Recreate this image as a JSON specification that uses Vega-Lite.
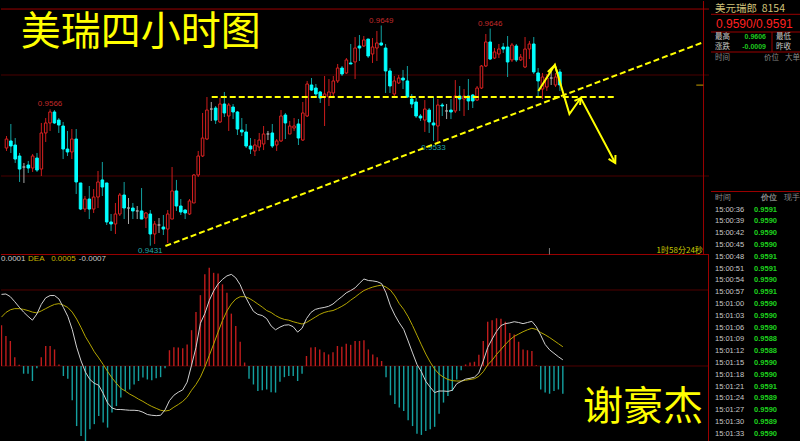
{
"$schema":"https://vega.github.io/schema/vega-lite/v6.json",
"background":"#000000",
"padding":0,
"spacing":0,
"config":{"view":{"stroke":null},"axis":{"disable":true},"legend":{"disable":true},"text":{"font":"Liberation Sans"}},
"datasets":{
"k":[
{"i":0,"o":0.95277,"h":0.95396,"l":0.95248,"c":0.95366,"d":"u","dif":0.00186,"dea":0.00127,"m":0.00106},
{"i":1,"o":0.95347,"h":0.95515,"l":0.95228,"c":0.95297,"d":"d","dif":0.00187,"dea":0.00139,"m":0.00078},
{"i":2,"o":0.95307,"h":0.95376,"l":0.95129,"c":0.95168,"d":"d","dif":0.00180,"dea":0.00146,"m":0.00065},
{"i":3,"o":0.95198,"h":0.95228,"l":0.94941,"c":0.95069,"d":"d","dif":0.00167,"dea":0.00149,"m":0.00023},
{"i":4,"o":0.95089,"h":0.95129,"l":0.94931,"c":0.95089,"d":"f","dif":0.00153,"dea":0.00149,"m":0.00003},
{"i":5,"o":0.95109,"h":0.95149,"l":0.95030,"c":0.95079,"d":"d","dif":0.00140,"dea":0.00147,"m":-0.00020},
{"i":6,"o":0.95079,"h":0.95218,"l":0.95040,"c":0.95198,"d":"u","dif":0.00129,"dea":0.00144,"m":-0.00020},
{"i":7,"o":0.95178,"h":0.95228,"l":0.95040,"c":0.95059,"d":"d","dif":0.00119,"dea":0.00140,"m":-0.00039},
{"i":8,"o":0.95069,"h":0.95525,"l":0.95000,"c":0.95426,"d":"u","dif":0.00135,"dea":0.00138,"m":-0.00006},
{"i":9,"o":0.95426,"h":0.95574,"l":0.95337,"c":0.95525,"d":"u","dif":0.00160,"dea":0.00143,"m":0.00023},
{"i":10,"o":0.95525,"h":0.95660,"l":0.95446,"c":0.95634,"d":"u","dif":0.00177,"dea":0.00149,"m":0.00052},
{"i":11,"o":0.95634,"h":0.95653,"l":0.95515,"c":0.95525,"d":"d","dif":0.00183,"dea":0.00155,"m":0.00052},
{"i":12,"o":0.95554,"h":0.95574,"l":0.95426,"c":0.95505,"d":"d","dif":0.00183,"dea":0.00160,"m":0.00043},
{"i":13,"o":0.95495,"h":0.95535,"l":0.95168,"c":0.95267,"d":"d","dif":0.00174,"dea":0.00162,"m":0.00004},
{"i":14,"o":0.95267,"h":0.95446,"l":0.95198,"c":0.95238,"d":"d","dif":0.00152,"dea":0.00158,"m":-0.00026},
{"i":15,"o":0.95238,"h":0.95465,"l":0.95168,"c":0.95366,"d":"u","dif":0.00129,"dea":0.00152,"m":-0.00033},
{"i":16,"o":0.95366,"h":0.95465,"l":0.94822,"c":0.94941,"d":"d","dif":0.00095,"dea":0.00140,"m":-0.00089},
{"i":17,"o":0.94931,"h":0.94931,"l":0.94663,"c":0.94673,"d":"d","dif":0.00049,"dea":0.00122,"m":-0.00156},
{"i":18,"o":0.94673,"h":0.94802,"l":0.94644,"c":0.94772,"d":"u","dif":0.00013,"dea":0.00100,"m":-0.00182},
{"i":19,"o":0.94772,"h":0.94901,"l":0.94574,"c":0.94673,"d":"d","dif":-0.00016,"dea":0.00076,"m":-0.00195},
{"i":20,"o":0.94673,"h":0.94871,"l":0.94634,"c":0.94792,"d":"u","dif":-0.00035,"dea":0.00057,"m":-0.00164},
{"i":21,"o":0.94792,"h":0.95050,"l":0.94683,"c":0.94941,"d":"u","dif":-0.00045,"dea":0.00037,"m":-0.00151},
{"i":22,"o":0.94961,"h":0.95139,"l":0.94802,"c":0.94891,"d":"d","dif":-0.00050,"dea":0.00021,"m":-0.00130},
{"i":23,"o":0.94931,"h":0.94931,"l":0.94515,"c":0.94545,"d":"d","dif":-0.00071,"dea":0.00004,"m":-0.00147},
{"i":24,"o":0.94545,"h":0.94624,"l":0.94456,"c":0.94525,"d":"d","dif":-0.00096,"dea":-0.00014,"m":-0.00160},
{"i":25,"o":0.94525,"h":0.94733,"l":0.94426,"c":0.94624,"d":"u","dif":-0.00109,"dea":-0.00031,"m":-0.00121},
{"i":26,"o":0.94624,"h":0.94832,"l":0.94604,"c":0.94812,"d":"u","dif":-0.00113,"dea":-0.00045,"m":-0.00104},
{"i":27,"o":0.94812,"h":0.94941,"l":0.94574,"c":0.94683,"d":"d","dif":-0.00113,"dea":-0.00058,"m":-0.00082},
{"i":28,"o":0.94683,"h":0.94782,"l":0.94525,"c":0.94683,"d":"f","dif":-0.00114,"dea":-0.00065,"m":-0.00065},
{"i":29,"o":0.94683,"h":0.94733,"l":0.94574,"c":0.94654,"d":"d","dif":-0.00115,"dea":-0.00073,"m":-0.00061},
{"i":30,"o":0.94654,"h":0.94703,"l":0.94574,"c":0.94654,"d":"f","dif":-0.00115,"dea":-0.00079,"m":-0.00048},
{"i":31,"o":0.94654,"h":0.94881,"l":0.94574,"c":0.94574,"d":"d","dif":-0.00116,"dea":-0.00086,"m":-0.00039},
{"i":32,"o":0.94584,"h":0.94644,"l":0.94485,"c":0.94634,"d":"u","dif":-0.00120,"dea":-0.00092,"m":-0.00030},
{"i":33,"o":0.94624,"h":0.94663,"l":0.94310,"c":0.94426,"d":"d","dif":-0.00126,"dea":-0.00099,"m":-0.00035},
{"i":34,"o":0.94426,"h":0.94555,"l":0.94327,"c":0.94525,"d":"u","dif":-0.00128,"dea":-0.00105,"m":-0.00037},
{"i":35,"o":0.94515,"h":0.94584,"l":0.94436,"c":0.94515,"d":"f","dif":-0.00129,"dea":-0.00110,"m":-0.00032},
{"i":36,"o":0.94495,"h":0.94614,"l":0.94416,"c":0.94475,"d":"d","dif":-0.00128,"dea":-0.00115,"m":-0.00029},
{"i":37,"o":0.94475,"h":0.94663,"l":0.94337,"c":0.94624,"d":"u","dif":-0.00114,"dea":-0.00117,"m":-0.00006},
{"i":38,"o":0.94574,"h":0.95089,"l":0.94574,"c":0.94852,"d":"u","dif":-0.00090,"dea":-0.00115,"m":0.00041},
{"i":39,"o":0.94852,"h":0.94961,"l":0.94654,"c":0.94703,"d":"d","dif":-0.00076,"dea":-0.00107,"m":0.00049},
{"i":40,"o":0.94703,"h":0.94772,"l":0.94614,"c":0.94644,"d":"d","dif":-0.00068,"dea":-0.00100,"m":0.00048},
{"i":41,"o":0.94663,"h":0.94673,"l":0.94574,"c":0.94634,"d":"d","dif":-0.00062,"dea":-0.00092,"m":0.00046},
{"i":42,"o":0.94624,"h":0.94772,"l":0.94614,"c":0.94753,"d":"u","dif":-0.00042,"dea":-0.00081,"m":0.00056},
{"i":43,"o":0.94733,"h":0.95020,"l":0.94733,"c":0.95010,"d":"u","dif":0.00002,"dea":-0.00063,"m":0.00093},
{"i":44,"o":0.95010,"h":0.95248,"l":0.94990,"c":0.95198,"d":"u","dif":0.00048,"dea":-0.00048,"m":0.00140},
{"i":45,"o":0.95198,"h":0.95624,"l":0.95188,"c":0.95376,"d":"u","dif":0.00111,"dea":-0.00029,"m":0.00184},
{"i":46,"o":0.95366,"h":0.95782,"l":0.95356,"c":0.95653,"d":"u","dif":0.00136,"dea":-0.00003,"m":0.00238},
{"i":47,"o":0.95663,"h":0.95733,"l":0.95545,"c":0.95663,"d":"f","dif":0.00170,"dea":0.00027,"m":0.00255},
{"i":48,"o":0.95673,"h":0.95693,"l":0.95515,"c":0.95554,"d":"d","dif":0.00195,"dea":0.00057,"m":0.00242},
{"i":49,"o":0.95535,"h":0.95772,"l":0.95525,"c":0.95713,"d":"u","dif":0.00213,"dea":0.00088,"m":0.00240},
{"i":50,"o":0.95713,"h":0.95832,"l":0.95584,"c":0.95624,"d":"d","dif":0.00225,"dea":0.00118,"m":0.00212},
{"i":51,"o":0.95594,"h":0.95723,"l":0.95446,"c":0.95703,"d":"u","dif":0.00234,"dea":0.00143,"m":0.00190},
{"i":52,"o":0.95683,"h":0.95713,"l":0.95564,"c":0.95634,"d":"d","dif":0.00238,"dea":0.00161,"m":0.00136},
{"i":53,"o":0.95634,"h":0.95644,"l":0.95406,"c":0.95465,"d":"d","dif":0.00229,"dea":0.00174,"m":0.00104},
{"i":54,"o":0.95455,"h":0.95574,"l":0.95396,"c":0.95436,"d":"d","dif":0.00211,"dea":0.00180,"m":0.00063},
{"i":55,"o":0.95436,"h":0.95515,"l":0.95277,"c":0.95297,"d":"d","dif":0.00184,"dea":0.00180,"m":0.00009},
{"i":56,"o":0.95297,"h":0.95376,"l":0.95218,"c":0.95267,"d":"d","dif":0.00162,"dea":0.00176,"m":-0.00033},
{"i":57,"o":0.95248,"h":0.95366,"l":0.95198,"c":0.95307,"d":"u","dif":0.00142,"dea":0.00169,"m":-0.00048},
{"i":58,"o":0.95287,"h":0.95426,"l":0.95248,"c":0.95356,"d":"u","dif":0.00134,"dea":0.00161,"m":-0.00065},
{"i":59,"o":0.95317,"h":0.95495,"l":0.95257,"c":0.95416,"d":"u","dif":0.00131,"dea":0.00153,"m":-0.00063},
{"i":60,"o":0.95416,"h":0.95446,"l":0.95356,"c":0.95416,"d":"f","dif":0.00123,"dea":0.00144,"m":-0.00061},
{"i":61,"o":0.95426,"h":0.95515,"l":0.95277,"c":0.95297,"d":"d","dif":0.00104,"dea":0.00139,"m":-0.00068},
{"i":62,"o":0.95307,"h":0.95366,"l":0.95248,"c":0.95347,"d":"u","dif":0.00094,"dea":0.00131,"m":-0.00069},
{"i":63,"o":0.95347,"h":0.95653,"l":0.95337,"c":0.95594,"d":"u","dif":0.00101,"dea":0.00125,"m":-0.00041},
{"i":64,"o":0.95604,"h":0.95624,"l":0.95366,"c":0.95525,"d":"d","dif":0.00106,"dea":0.00121,"m":-0.00029},
{"i":65,"o":0.95416,"h":0.95545,"l":0.95416,"c":0.95495,"d":"u","dif":0.00107,"dea":0.00119,"m":-0.00026},
{"i":66,"o":0.95475,"h":0.95574,"l":0.95446,"c":0.95495,"d":"u","dif":0.00102,"dea":0.00115,"m":-0.00026},
{"i":67,"o":0.95515,"h":0.95564,"l":0.95307,"c":0.95376,"d":"d","dif":0.00088,"dea":0.00112,"m":-0.00039},
{"i":68,"o":0.95356,"h":0.95733,"l":0.95347,"c":0.95624,"d":"u","dif":0.00098,"dea":0.00109,"m":-0.00020},
{"i":69,"o":0.95594,"h":0.95941,"l":0.95584,"c":0.95911,"d":"u","dif":0.00123,"dea":0.00113,"m":0.00026},
{"i":70,"o":0.95901,"h":0.95970,"l":0.95842,"c":0.95851,"d":"d","dif":0.00139,"dea":0.00120,"m":0.00048},
{"i":71,"o":0.95871,"h":0.95911,"l":0.95782,"c":0.95812,"d":"d","dif":0.00147,"dea":0.00127,"m":0.00049},
{"i":72,"o":0.95832,"h":0.95842,"l":0.95723,"c":0.95772,"d":"d","dif":0.00150,"dea":0.00134,"m":0.00043},
{"i":73,"o":0.95782,"h":0.95990,"l":0.95495,"c":0.95812,"d":"u","dif":0.00152,"dea":0.00139,"m":0.00036},
{"i":74,"o":0.95782,"h":0.95960,"l":0.95693,"c":0.95832,"d":"u","dif":0.00155,"dea":0.00142,"m":0.00030},
{"i":75,"o":0.95822,"h":0.95990,"l":0.95772,"c":0.95941,"d":"u","dif":0.00161,"dea":0.00144,"m":0.00036},
{"i":76,"o":0.95941,"h":0.96109,"l":0.95921,"c":0.96069,"d":"u","dif":0.00171,"dea":0.00149,"m":0.00052},
{"i":77,"o":0.96069,"h":0.96089,"l":0.95990,"c":0.96010,"d":"d","dif":0.00180,"dea":0.00155,"m":0.00050},
{"i":78,"o":0.96020,"h":0.96168,"l":0.96010,"c":0.96149,"d":"u","dif":0.00190,"dea":0.00162,"m":0.00058},
{"i":79,"o":0.96119,"h":0.96307,"l":0.96109,"c":0.96109,"d":"d","dif":0.00196,"dea":0.00171,"m":0.00055},
{"i":80,"o":0.96129,"h":0.96376,"l":0.95960,"c":0.96267,"d":"u","dif":0.00203,"dea":0.00179,"m":0.00065},
{"i":81,"o":0.96287,"h":0.96396,"l":0.96139,"c":0.96267,"d":"d","dif":0.00215,"dea":0.00188,"m":0.00065},
{"i":82,"o":0.96287,"h":0.96386,"l":0.96277,"c":0.96347,"d":"u","dif":0.00226,"dea":0.00196,"m":0.00067},
{"i":83,"o":0.96356,"h":0.96356,"l":0.96168,"c":0.96188,"d":"d","dif":0.00222,"dea":0.00201,"m":0.00043},
{"i":84,"o":0.96208,"h":0.96366,"l":0.96119,"c":0.96277,"d":"u","dif":0.00221,"dea":0.00205,"m":0.00030},
{"i":85,"o":0.96267,"h":0.96436,"l":0.96139,"c":0.96317,"d":"u","dif":0.00219,"dea":0.00208,"m":0.00023},
{"i":86,"o":0.96317,"h":0.96490,"l":0.96287,"c":0.96297,"d":"d","dif":0.00214,"dea":0.00210,"m":0.00013},
{"i":87,"o":0.96267,"h":0.96307,"l":0.95822,"c":0.96040,"d":"d","dif":0.00190,"dea":0.00205,"m":-0.00029},
{"i":88,"o":0.96040,"h":0.96069,"l":0.95822,"c":0.95891,"d":"d","dif":0.00156,"dea":0.00197,"m":-0.00076},
{"i":89,"o":0.95812,"h":0.95990,"l":0.95792,"c":0.95941,"d":"u","dif":0.00132,"dea":0.00182,"m":-0.00099},
{"i":90,"o":0.95921,"h":0.96000,"l":0.95911,"c":0.95970,"d":"u","dif":0.00112,"dea":0.00162,"m":-0.00108},
{"i":91,"o":0.95970,"h":0.96050,"l":0.95861,"c":0.95950,"d":"d","dif":0.00095,"dea":0.00147,"m":-0.00117},
{"i":92,"o":0.95941,"h":0.96089,"l":0.95772,"c":0.95782,"d":"d","dif":0.00065,"dea":0.00128,"m":-0.00141},
{"i":93,"o":0.95762,"h":0.95812,"l":0.95673,"c":0.95713,"d":"d","dif":0.00034,"dea":0.00105,"m":-0.00156},
{"i":94,"o":0.95733,"h":0.95772,"l":0.95574,"c":0.95594,"d":"d","dif":0.00004,"dea":0.00080,"m":-0.00176},
{"i":95,"o":0.95594,"h":0.95614,"l":0.95545,"c":0.95574,"d":"d","dif":-0.00015,"dea":0.00055,"m":-0.00179},
{"i":96,"o":0.95554,"h":0.95752,"l":0.95436,"c":0.95663,"d":"u","dif":-0.00040,"dea":0.00031,"m":-0.00169},
{"i":97,"o":0.95653,"h":0.95673,"l":0.95426,"c":0.95535,"d":"d","dif":-0.00055,"dea":0.00010,"m":-0.00164},
{"i":98,"o":0.95525,"h":0.95782,"l":0.95347,"c":0.95505,"d":"d","dif":-0.00069,"dea":-0.00008,"m":-0.00158},
{"i":99,"o":0.95495,"h":0.95762,"l":0.95330,"c":0.95703,"d":"u","dif":-0.00065,"dea":-0.00021,"m":-0.00124},
{"i":100,"o":0.95703,"h":0.95723,"l":0.95594,"c":0.95693,"d":"d","dif":-0.00065,"dea":-0.00029,"m":-0.00095},
{"i":101,"o":0.95644,"h":0.95713,"l":0.95564,"c":0.95644,"d":"f","dif":-0.00066,"dea":-0.00035,"m":-0.00078},
{"i":102,"o":0.95653,"h":0.95762,"l":0.95564,"c":0.95634,"d":"d","dif":-0.00063,"dea":-0.00038,"m":-0.00065},
{"i":103,"o":0.95644,"h":0.95950,"l":0.95624,"c":0.95792,"d":"u","dif":-0.00046,"dea":-0.00039,"m":-0.00035},
{"i":104,"o":0.95792,"h":0.95891,"l":0.95644,"c":0.95762,"d":"d","dif":-0.00040,"dea":-0.00039,"m":-0.00011},
{"i":105,"o":0.95762,"h":0.95861,"l":0.95594,"c":0.95792,"d":"u","dif":-0.00034,"dea":-0.00037,"m":0.00004},
{"i":106,"o":0.95792,"h":0.95960,"l":0.95653,"c":0.95743,"d":"d","dif":-0.00032,"dea":-0.00035,"m":0.00009},
{"i":107,"o":0.95802,"h":0.95812,"l":0.95673,"c":0.95743,"d":"d","dif":-0.00029,"dea":-0.00033,"m":0.00011},
{"i":108,"o":0.95752,"h":0.95891,"l":0.95743,"c":0.95871,"d":"u","dif":-0.00018,"dea":-0.00027,"m":0.00029},
{"i":109,"o":0.95871,"h":0.96099,"l":0.95861,"c":0.96089,"d":"u","dif":0.00013,"dea":-0.00015,"m":0.00065},
{"i":110,"o":0.96089,"h":0.96406,"l":0.96079,"c":0.96327,"d":"u","dif":0.00048,"dea":0.00003,"m":0.00115},
{"i":111,"o":0.96327,"h":0.96460,"l":0.96149,"c":0.96158,"d":"d","dif":0.00070,"dea":0.00015,"m":0.00119},
{"i":112,"o":0.96168,"h":0.96267,"l":0.96158,"c":0.96228,"d":"u","dif":0.00090,"dea":0.00030,"m":0.00124},
{"i":113,"o":0.96208,"h":0.96307,"l":0.96168,"c":0.96257,"d":"u","dif":0.00105,"dea":0.00043,"m":0.00123},
{"i":114,"o":0.96277,"h":0.96317,"l":0.96218,"c":0.96257,"d":"d","dif":0.00110,"dea":0.00056,"m":0.00115},
{"i":115,"o":0.96277,"h":0.96386,"l":0.95980,"c":0.96129,"d":"d","dif":0.00112,"dea":0.00068,"m":0.00086},
{"i":116,"o":0.96149,"h":0.96317,"l":0.96129,"c":0.96297,"d":"u","dif":0.00115,"dea":0.00077,"m":0.00082},
{"i":117,"o":0.96287,"h":0.96307,"l":0.96129,"c":0.96149,"d":"d","dif":0.00113,"dea":0.00083,"m":0.00063},
{"i":118,"o":0.96149,"h":0.96208,"l":0.96139,"c":0.96178,"d":"u","dif":0.00110,"dea":0.00089,"m":0.00043},
{"i":119,"o":0.96079,"h":0.96376,"l":0.96069,"c":0.96257,"d":"u","dif":0.00113,"dea":0.00094,"m":0.00041},
{"i":120,"o":0.96257,"h":0.96337,"l":0.96158,"c":0.96307,"d":"u","dif":0.00116,"dea":0.00098,"m":0.00039},
{"i":121,"o":0.96307,"h":0.96376,"l":0.96010,"c":0.96030,"d":"d","dif":0.00102,"dea":0.00095,"m":0.00002},
{"i":122,"o":0.96020,"h":0.96069,"l":0.95792,"c":0.95941,"d":"d","dif":0.00080,"dea":0.00087,"m":-0.00061},
{"i":123,"o":0.95861,"h":0.96020,"l":0.95762,"c":0.95980,"d":"u","dif":0.00056,"dea":0.00081,"m":-0.00069},
{"i":124,"o":0.95881,"h":0.96010,"l":0.95842,"c":0.95970,"d":"u","dif":0.00042,"dea":0.00074,"m":-0.00072},
{"i":125,"o":0.95970,"h":0.96040,"l":0.95901,"c":0.95970,"d":"f","dif":0.00033,"dea":0.00066,"m":-0.00065},
{"i":126,"o":0.95901,"h":0.96020,"l":0.95881,"c":0.95980,"d":"u","dif":0.00024,"dea":0.00058,"m":-0.00061},
{"i":127,"o":0.96030,"h":0.96059,"l":0.95842,"c":0.95901,"d":"d","dif":0.00016,"dea":0.00050,"m":-0.00072}
],
"dl":[
{"g":"h","k":0,"i":47.1,"p":0.95782},{"g":"h","k":1,"i":139.4,"p":0.95782},
{"g":"r","k":0,"i":36.47,"p":0.94307},{"g":"r","k":1,"i":160.07,"p":0.96327}
],
"ar":[
{"g":"z","k":0,"i":122.06,"p":0.95842},{"g":"z","k":1,"i":125.84,"p":0.96099},{"g":"z","k":2,"i":129.19,"p":0.95614},{"g":"z","k":3,"i":131.79,"p":0.95772},{"g":"z","k":4,"i":139.71,"p":0.95129},
{"g":"b","k":0,"i":124.23,"p":0.9603},{"g":"b","k":1,"i":125.84,"p":0.96099},{"g":"b","k":2,"i":126.36,"p":0.9603},
{"g":"dd","k":0,"i":130.34,"p":0.95743},{"g":"dd","k":1,"i":131.79,"p":0.95772},{"g":"dd","k":2,"i":131.63,"p":0.95703},
{"g":"e","k":0,"i":138.17,"p":0.9517},{"g":"e","k":1,"i":139.71,"p":0.95129},{"g":"e","k":2,"i":139.75,"p":0.95208}
],
"tk":[
{"r":0,"time":"时间","price":"价位","vol":"现手"},
{"r":1,"time":"15:00:36","price":"0.9591"},
{"r":2,"time":"15:00:39","price":"0.9590"},
{"r":3,"time":"15:00:42","price":"0.9590"},
{"r":4,"time":"15:00:45","price":"0.9590"},
{"r":5,"time":"15:00:48","price":"0.9591"},
{"r":6,"time":"15:00:51","price":"0.9591"},
{"r":7,"time":"15:00:54","price":"0.9590"},
{"r":8,"time":"15:00:57","price":"0.9591"},
{"r":9,"time":"15:01:00","price":"0.9590"},
{"r":10,"time":"15:01:03","price":"0.9590"},
{"r":11,"time":"15:01:06","price":"0.9590"},
{"r":12,"time":"15:01:09","price":"0.9588"},
{"r":13,"time":"15:01:12","price":"0.9588"},
{"r":14,"time":"15:01:15","price":"0.9590"},
{"r":15,"time":"15:01:18","price":"0.9590"},
{"r":16,"time":"15:01:21","price":"0.9591"},
{"r":17,"time":"15:01:24","price":"0.9589"},
{"r":18,"time":"15:01:27","price":"0.9590"},
{"r":19,"time":"15:01:30","price":"0.9589"},
{"r":20,"time":"15:01:33","price":"0.9590"}
]
},
"resolve":{"scale":{"x":"independent","y":"independent","color":"independent"}},
"hconcat":[
{"vconcat":[
{"width":708,"height":254,
"layer":[
{"data":{"values":[{"p":0.96},{"p":0.95}]},"mark":{"type":"rule","color":"#4a0000","strokeWidth":1},
 "encoding":{"y":{"field":"p","type":"quantitative","scale":{"domain":[0.94218,0.967326],"nice":false,"zero":false}}}},
{"data":{"values":[{"p":0.96653},{"p":0.94223}]},"mark":{"type":"rule","color":"#9a0000","strokeWidth":1},
 "encoding":{"y":{"field":"p","type":"quantitative","scale":{"domain":[0.94218,0.967326],"nice":false,"zero":false}}}},
{"data":{"values":[{}]},"mark":{"type":"rule","color":"#9a0000","strokeWidth":1},
 "encoding":{"x":{"datum":159.96,"type":"quantitative","scale":{"domain":[-0.113,160.07],"nice":false,"zero":false}}}},
{"data":{"name":"k"},"mark":{"type":"rule","strokeWidth":1,"clip":true},
 "encoding":{"x":{"field":"i","type":"quantitative","scale":{"domain":[-0.113,160.07],"nice":false,"zero":false}},
 "y":{"field":"l","type":"quantitative","scale":{"domain":[0.94218,0.967326],"nice":false,"zero":false}},"y2":{"field":"h"},
 "color":{"field":"d","type":"nominal","scale":{"domain":["u","d","f"],"range":["#cc1c1c","#12a0a0","#a8a8a8"]},"legend":null}}},
{"data":{"name":"k"},"mark":{"type":"bar","width":2.6,"strokeWidth":1,"clip":true},
 "encoding":{"x":{"field":"i","type":"quantitative","scale":{"domain":[-0.113,160.07],"nice":false,"zero":false}},
 "y":{"field":"o","type":"quantitative","scale":{"domain":[0.94218,0.967326],"nice":false,"zero":false}},"y2":{"field":"c"},
 "fill":{"field":"d","type":"nominal","scale":{"domain":["u","d","f"],"range":["#000000","#00ffff","#a8a8a8"]},"legend":null},
 "stroke":{"field":"d","type":"nominal","scale":{"domain":["u","d","f"],"range":["#dc2222","#00ffff","#a8a8a8"]},"legend":null}}},
{"data":{"values":[{"i":10,"p":0.9566,"t":"0.9566"},{"i":86,"p":0.9649,"t":"0.9649"},{"i":111,"p":0.9646,"t":"0.9646"}]},
 "mark":{"type":"text","align":"center","baseline":"bottom","dy":-1,"fontSize":8,"color":"#c42a2a"},
 "encoding":{"x":{"field":"i","type":"quantitative","scale":{"domain":[-0.113,160.07],"nice":false,"zero":false}},
 "y":{"field":"p","type":"quantitative","scale":{"domain":[0.94218,0.967326],"nice":false,"zero":false}},"text":{"field":"t"}}},
{"data":{"values":[{"i":33,"p":0.9431,"t":"0.9431"},{"i":98,"p":0.9533,"t":"0.9533"}]},
 "mark":{"type":"text","align":"center","baseline":"top","dy":1,"fontSize":8,"color":"#20a8a8"},
 "encoding":{"x":{"field":"i","type":"quantitative","scale":{"domain":[-0.113,160.07],"nice":false,"zero":false}},
 "y":{"field":"p","type":"quantitative","scale":{"domain":[0.94218,0.967326],"nice":false,"zero":false}},"text":{"field":"t"}}},
{"data":{"name":"dl"},"mark":{"type":"line","color":"#ffff00","strokeWidth":2,"strokeDash":[6,3],"clip":true},
 "encoding":{"x":{"field":"i","type":"quantitative","scale":{"domain":[-0.113,160.07],"nice":false,"zero":false}},
 "y":{"field":"p","type":"quantitative","scale":{"domain":[0.94218,0.967326],"nice":false,"zero":false}},
 "detail":{"field":"g"},"order":{"field":"k"}}},
{"data":{"name":"ar"},"mark":{"type":"line","color":"#ffff00","strokeWidth":2},
 "encoding":{"x":{"field":"i","type":"quantitative","scale":{"domain":[-0.113,160.07],"nice":false,"zero":false}},
 "y":{"field":"p","type":"quantitative","scale":{"domain":[0.94218,0.967326],"nice":false,"zero":false}},
 "detail":{"field":"g"},"order":{"field":"k"}}},
{"data":{"values":[{}]},"mark":{"type":"rule","color":"#c8a000","strokeWidth":1},
 "encoding":{"x":{"datum":158.3,"type":"quantitative","scale":{"domain":[-0.113,160.07],"nice":false,"zero":false}},"x2":{"datum":159.9},
 "y":{"datum":0.959,"type":"quantitative","scale":{"domain":[0.94218,0.967326],"nice":false,"zero":false}}}},
{"data":{"values":[{}]},"mark":{"type":"rule","color":"#7a7a7a","strokeWidth":1},
 "encoding":{"x":{"datum":124.6,"type":"quantitative","scale":{"domain":[-0.113,160.07],"nice":false,"zero":false}},
 "y":{"datum":0.94287,"type":"quantitative","scale":{"domain":[0.94218,0.967326],"nice":false,"zero":false}},"y2":{"datum":0.94223}}},
{"data":{"values":[{}]},"mark":{"type":"text","align":"right","baseline":"middle","fontSize":8,"font":"Noto Sans CJK SC","color":"#c8c800"},
 "encoding":{"x":{"datum":159.8,"type":"quantitative","scale":{"domain":[-0.113,160.07],"nice":false,"zero":false}},
 "y":{"datum":0.94262,"type":"quantitative","scale":{"domain":[0.94218,0.967326],"nice":false,"zero":false}},"text":{"value":"1时58分24秒"}}},
{"data":{"values":[{}]},"mark":{"type":"text","align":"left","baseline":"middle","fontSize":40,"font":"Noto Sans CJK SC","color":"#ffff00"},
 "encoding":{"x":{"datum":3.3,"type":"quantitative","scale":{"domain":[-0.113,160.07],"nice":false,"zero":false}},
 "y":{"datum":0.96411,"type":"quantitative","scale":{"domain":[0.94218,0.967326],"nice":false,"zero":false}},"text":{"value":"美瑞四小时图"}}}
]},
{"width":708,"height":187,
"layer":[
{"data":{"values":[{"v":0.001974},{"v":0}]},"mark":{"type":"rule","color":"#500000","strokeWidth":1},
 "encoding":{"y":{"field":"v","type":"quantitative","scale":{"domain":[-0.001974,0.002883],"nice":false,"zero":false}}}},
{"data":{"values":[{}]},"mark":{"type":"rule","color":"#9a0000","strokeWidth":1},
 "encoding":{"x":{"datum":159.96,"type":"quantitative","scale":{"domain":[-0.113,160.07],"nice":false,"zero":false}}}},
{"data":{"name":"k"},"mark":{"type":"rule","strokeWidth":1.4,"clip":true},
 "encoding":{"x":{"field":"i","type":"quantitative","scale":{"domain":[-0.113,160.07],"nice":false,"zero":false}},
 "y":{"field":"m","type":"quantitative","scale":{"domain":[-0.001974,0.002883],"nice":false,"zero":false}},"y2":{"datum":0},
 "color":{"condition":{"test":"datum.m > 0","value":"#c01c1c"},"value":"#14a0a0"}}},
{"data":{"name":"k"},"mark":{"type":"line","color":"#b4a600","strokeWidth":1,"clip":true},
 "encoding":{"x":{"field":"i","type":"quantitative","scale":{"domain":[-0.113,160.07],"nice":false,"zero":false}},
 "y":{"field":"dea","type":"quantitative","scale":{"domain":[-0.001974,0.002883],"nice":false,"zero":false}}}},
{"data":{"name":"k"},"mark":{"type":"line","color":"#d0d0d0","strokeWidth":1,"clip":true},
 "encoding":{"x":{"field":"i","type":"quantitative","scale":{"domain":[-0.113,160.07],"nice":false,"zero":false}},
 "y":{"field":"dif","type":"quantitative","scale":{"domain":[-0.001974,0.002883],"nice":false,"zero":false}}}},
{"data":{"values":[{}]},"mark":{"type":"text","align":"left","baseline":"middle","fontSize":8,"color":"#c8c8c8"},
 "encoding":{"x":{"datum":-0.11,"type":"quantitative","scale":{"domain":[-0.113,160.07],"nice":false,"zero":false}},
 "y":{"datum":0.00278,"type":"quantitative","scale":{"domain":[-0.001974,0.002883],"nice":false,"zero":false}},"text":{"value":"0.0001"}}},
{"data":{"values":[{}]},"mark":{"type":"text","align":"left","baseline":"middle","fontSize":8,"color":"#c8b400"},
 "encoding":{"x":{"datum":6.0,"type":"quantitative","scale":{"domain":[-0.113,160.07],"nice":false,"zero":false}},
 "y":{"datum":0.00278,"type":"quantitative","scale":{"domain":[-0.001974,0.002883],"nice":false,"zero":false}},"text":{"value":"DEA\u00a0\u00a0\u00a00.0005"}}},
{"data":{"values":[{}]},"mark":{"type":"text","align":"left","baseline":"middle","fontSize":8,"color":"#c8c8c8"},
 "encoding":{"x":{"datum":17.5,"type":"quantitative","scale":{"domain":[-0.113,160.07],"nice":false,"zero":false}},
 "y":{"datum":0.00278,"type":"quantitative","scale":{"domain":[-0.001974,0.002883],"nice":false,"zero":false}},"text":{"value":"-0.0007"}}},
{"data":{"values":[{}]},"mark":{"type":"text","align":"left","baseline":"middle","fontSize":40,"font":"Noto Sans CJK SC","color":"#ffff00"},
 "encoding":{"x":{"datum":131.56,"type":"quantitative","scale":{"domain":[-0.113,160.07],"nice":false,"zero":false}},
 "y":{"datum":-0.00109,"type":"quantitative","scale":{"domain":[-0.001974,0.002883],"nice":false,"zero":false}},"text":{"value":"谢豪杰"}}}
]}
],"spacing":0,"bounds":"flush","resolve":{"scale":{"y":"independent","color":"independent"}}},
{"vconcat":[
{"width":92,"height":191,
"layer":[
{"data":{"values":[{"r":-0.17},{"r":1.6},{"r":3.6},{"r":17.55}]},"mark":{"type":"rule","color":"#9a0000","strokeWidth":1},
 "encoding":{"y":{"field":"r","type":"quantitative","scale":{"domain":[-1.5,17.6],"reverse":true,"nice":false,"zero":false}}}},
{"data":{"values":[{"r":1.6,"r2":3.6}]},"mark":{"type":"rule","color":"#9a0000","strokeWidth":1,"xOffset":15},
 "encoding":{"x":{"datum":"b","type":"nominal","scale":{"type":"point","domain":["a","b","c"],"padding":0}},
 "y":{"field":"r","type":"quantitative","scale":{"domain":[-1.5,17.6],"reverse":true,"nice":false,"zero":false}},"y2":{"field":"r2"}}},
{"data":{"values":[{"r":0,"s":"美元瑞郎\u00a0\u00a08154"}]},"mark":{"type":"text","align":"left","baseline":"middle","dx":4,"dy":-7.5,"font":"Noto Sans CJK SC","fontSize":10.5,"color":"#d0c27a"},
 "encoding":{"x":{"datum":"a","type":"nominal","scale":{"type":"point","domain":["a","b","c"],"padding":0}},
 "y":{"field":"r","type":"quantitative","scale":{"domain":[-1.5,17.6],"reverse":true,"nice":false,"zero":false}},"text":{"field":"s"}}},
{"data":{"values":[{"r":1,"s":"0.9590/0.9591"}]},"mark":{"type":"text","align":"left","baseline":"middle","dx":5,"dy":-2,"fontSize":12,"color":"#ff2020"},
 "encoding":{"x":{"datum":"a","type":"nominal","scale":{"type":"point","domain":["a","b","c"],"padding":0}},
 "y":{"field":"r","type":"quantitative","scale":{"domain":[-1.5,17.6],"reverse":true,"nice":false,"zero":false}},"text":{"field":"s"}}},
{"data":{"values":[{"r":2,"l1":"最高","v":"0.9606","l2":"最低"},{"r":3,"l1":"涨跌","v":"-0.0009","l2":"昨收"}]},
 "layer":[
 {"mark":{"type":"text","align":"left","baseline":"middle","dx":4,"dy":0.5,"font":"Noto Sans CJK SC","fontSize":7.5,"color":"#c8c8c8"},
  "encoding":{"x":{"datum":"a","type":"nominal","scale":{"type":"point","domain":["a","b","c"],"padding":0}},
  "y":{"field":"r","type":"quantitative","scale":{"domain":[-1.5,17.6],"reverse":true,"nice":false,"zero":false}},"text":{"field":"l1"}}},
 {"mark":{"type":"text","align":"right","baseline":"middle","dx":9,"dy":0.5,"fontSize":7,"fontWeight":"bold","color":"#1ec81e"},
  "encoding":{"x":{"datum":"b","type":"nominal","scale":{"type":"point","domain":["a","b","c"],"padding":0}},
  "y":{"field":"r","type":"quantitative","scale":{"domain":[-1.5,17.6],"reverse":true,"nice":false,"zero":false}},"text":{"field":"v"}}},
 {"mark":{"type":"text","align":"left","baseline":"middle","dx":-27,"dy":0.5,"font":"Noto Sans CJK SC","fontSize":7.5,"color":"#c8c8c8"},
  "encoding":{"x":{"datum":"c","type":"nominal","scale":{"type":"point","domain":["a","b","c"],"padding":0}},
  "y":{"field":"r","type":"quantitative","scale":{"domain":[-1.5,17.6],"reverse":true,"nice":false,"zero":false}},"text":{"field":"l2"}}}
 ]},
{"data":{"values":[{"r":4,"a":"时间","b":"价位","c":"大单"}]},
 "layer":[
 {"mark":{"type":"text","align":"left","baseline":"middle","dx":4,"dy":2,"font":"Noto Sans CJK SC","fontSize":7.5,"color":"#8a8a8a"},
  "encoding":{"x":{"datum":"a","type":"nominal","scale":{"type":"point","domain":["a","b","c"],"padding":0}},
  "y":{"field":"r","type":"quantitative","scale":{"domain":[-1.5,17.6],"reverse":true,"nice":false,"zero":false}},"text":{"field":"a"}}},
 {"mark":{"type":"text","align":"left","baseline":"middle","dx":7,"dy":2,"font":"Noto Sans CJK SC","fontSize":7.5,"color":"#8a8a8a"},
  "encoding":{"x":{"datum":"b","type":"nominal","scale":{"type":"point","domain":["a","b","c"],"padding":0}},
  "y":{"field":"r","type":"quantitative","scale":{"domain":[-1.5,17.6],"reverse":true,"nice":false,"zero":false}},"text":{"field":"b"}}},
 {"mark":{"type":"text","align":"right","baseline":"middle","dx":-3,"dy":2,"font":"Noto Sans CJK SC","fontSize":7.5,"color":"#8a8a8a"},
  "encoding":{"x":{"datum":"c","type":"nominal","scale":{"type":"point","domain":["a","b","c"],"padding":0}},
  "y":{"field":"r","type":"quantitative","scale":{"domain":[-1.5,17.6],"reverse":true,"nice":false,"zero":false}},"text":{"field":"c"}}}
 ]}
]},
{"width":92,"height":250,
"data":{"name":"tk"},
"layer":[
{"mark":{"type":"text","align":"left","baseline":"middle","dx":4,"fontSize":7.5},
 "encoding":{"x":{"datum":"t","type":"nominal","scale":{"type":"point","domain":["t","p","v"],"padding":0}},
 "y":{"field":"r","type":"ordinal","scale":{"type":"point","padding":0.593,"align":0.41}},
 "text":{"field":"time"},
 "color":{"condition":{"test":"datum.r === 0","value":"#8a8a8a"},"value":"#c8c8c8"}}},
{"mark":{"type":"text","align":"right","baseline":"middle","dx":20,"fontSize":7.5,"fontWeight":"bold"},
 "encoding":{"x":{"datum":"p","type":"nominal","scale":{"type":"point","domain":["t","p","v"],"padding":0}},
 "y":{"field":"r","type":"ordinal","scale":{"type":"point","padding":0.593,"align":0.41}},
 "text":{"field":"price"},
 "color":{"condition":{"test":"datum.r === 0","value":"#8a8a8a"},"value":"#1ed21e"}}},
{"transform":[{"filter":"datum.r === 0"}],
 "mark":{"type":"text","align":"right","baseline":"middle","dx":-3,"fontSize":7.5,"color":"#8a8a8a"},
 "encoding":{"x":{"datum":"v","type":"nominal","scale":{"type":"point","domain":["t","p","v"],"padding":0}},
 "y":{"field":"r","type":"ordinal","scale":{"type":"point","padding":0.593,"align":0.41}},
 "text":{"field":"vol"}}}
]}
],"spacing":0,"bounds":"flush","resolve":{"scale":{"x":"independent","y":"independent"}}}
]
}
